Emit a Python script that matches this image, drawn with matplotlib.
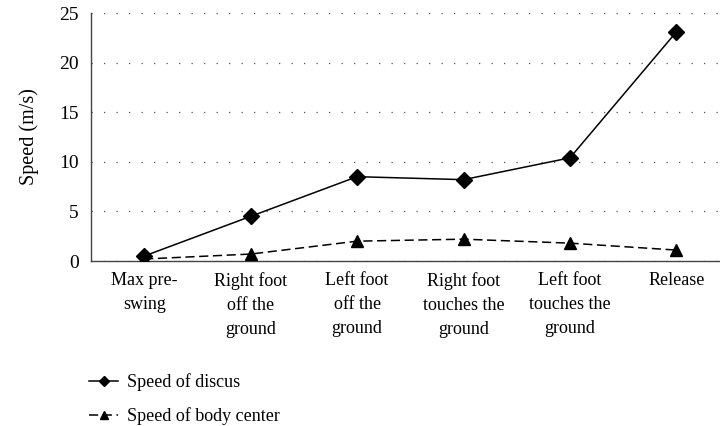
import matplotlib

matplotlib.use("Agg")
import matplotlib.pyplot as plt

plt.rcParams["font.family"] = ["Liberation Serif", "DejaVu Serif"]

# ----- data -----------------------------------------------------------------

phases = [
    "Max pre-\nswing",
    "Right foot\noff the\nground",
    "Left foot\noff the\nground",
    "Right foot\ntouches the\nground",
    "Left foot\ntouches the\nground",
    "Release",
]
discus_speed = [0.5, 4.5, 8.5, 8.2, 10.4, 23.1]
body_speed = [0.2, 0.7, 2.0, 2.2, 1.8, 1.1]

# ----- plot -----------------------------------------------------------------

fig = plt.figure(figsize=(7.2, 4.26), dpi=100)
ax = fig.add_axes([91 / 720, 1 - 261 / 426, 628 / 720, 248 / 426])

x = list(range(len(phases)))
ax.plot(x, discus_speed, color="black", lw=1.1, marker="D", ms=8.5,
        label="Speed of discus", zorder=3)
ax.plot(x, body_speed, color="black", lw=1.1, ls=(0, (6, 3)), marker="^", ms=8.5,
        label="Speed of body center", zorder=3)

ax.set_xlim(-0.5, 5.4)
ax.set_ylim(0, 25)
ax.set_yticks([0, 5, 10, 15, 20, 25])
ax.set_xticks(x)
ax.set_xticklabels(phases, fontsize=13, linespacing=1.55, va="top")
ax.tick_params(axis="both", length=0)
ax.tick_params(axis="x", pad=8, labelsize=13)
ax.tick_params(axis="y", pad=9, labelsize=14)
ax.set_ylabel("Speed (m/s)", fontsize=14.5, labelpad=14)

ax.yaxis.grid(True, ls=(0, (1, 9)), color="#555555", lw=0.9)
ax.set_axisbelow(True)
for side in ("top", "right"):
    ax.spines[side].set_visible(False)
for side in ("left", "bottom"):
    ax.spines[side].set_color("#444444")
    ax.spines[side].set_linewidth(1.0)

handles, labels = ax.get_legend_handles_labels()
fig.legend(handles, labels, loc="upper left", bbox_to_anchor=(73 / 720, 1 - 357 / 426),
           frameon=False, fontsize=13, handlelength=1.6, handletextpad=0.5,
           labelspacing=0.9, markerscale=0.6)

fig.savefig("out.png", dpi=100)
plt.close(fig)
